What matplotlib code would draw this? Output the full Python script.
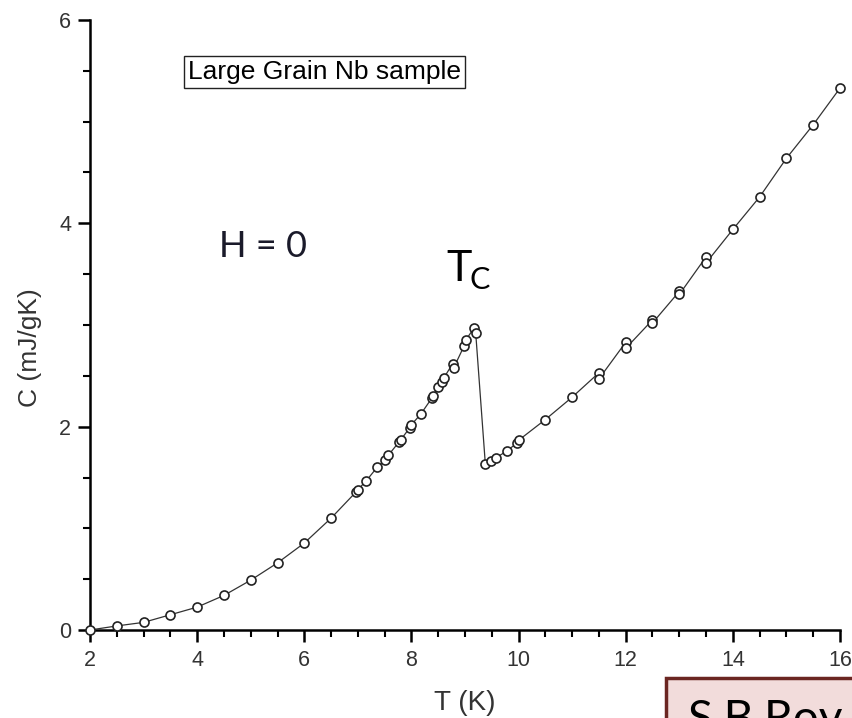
import matplotlib
matplotlib.use("Agg")
import matplotlib.pyplot as plt
from matplotlib.patches import Rectangle
from matplotlib.ticker import MultipleLocator

# Data (T in K, C in mJ/gK)
T = [2.0, 2.5, 3.0, 3.5, 4.0, 4.5, 5.0, 5.5, 6.0, 6.5, 6.97, 7.0, 7.16, 7.36,
     7.5, 7.57, 7.77, 7.8, 7.97, 8.0, 8.17, 8.38, 8.4, 8.5, 8.58, 8.6, 8.77,
     8.79, 8.98, 9.01, 9.17, 9.2, 9.38, 9.49, 9.58, 9.78, 9.97, 10.01, 10.5,
     11.0, 11.5, 11.5, 12.0, 12.0, 12.5, 12.5, 13.0, 13.0, 13.5, 13.5, 14.0,
     14.5, 15.0, 15.5, 16.0]
C = [0.0, 0.04, 0.075, 0.15, 0.225, 0.34, 0.49, 0.66, 0.855, 1.10, 1.36, 1.38,
     1.47, 1.60, 1.67, 1.72, 1.85, 1.87, 1.99, 2.02, 2.12, 2.28, 2.30, 2.39,
     2.44, 2.475, 2.62, 2.58, 2.79, 2.85, 2.97, 2.92, 1.63, 1.665, 1.695, 1.76,
     1.84, 1.87, 2.07, 2.29, 2.53, 2.47, 2.83, 2.77, 3.05, 3.02, 3.33, 3.30,
     3.67, 3.61, 3.94, 4.26, 4.64, 4.97, 5.33]

x_ticks = [2, 4, 6, 8, 10, 12, 14, 16]
y_ticks = [0, 2, 4, 6]

fig = plt.figure(figsize=(8.53, 7.18), dpi=100)
ax = fig.add_axes([90/853, 1-630/718, (840-90)/853, (630-20)/718])

ax.plot(T, C, color="#333333", lw=0.9, marker="o", ms=6.5, mfc="white",
        mec="#222222", mew=1.2, clip_on=False, zorder=3)

ax.set_xlim(2, 16)
ax.set_ylim(0, 6)
ax.set_xticks(x_ticks)
ax.set_yticks(y_ticks)
ax.xaxis.set_minor_locator(MultipleLocator(0.5))
ax.yaxis.set_minor_locator(MultipleLocator(0.5))
for s in ["top", "right"]:
    ax.spines[s].set_visible(False)
for s in ["left", "bottom"]:
    ax.spines[s].set_linewidth(1.8)
ax.tick_params(which="major", direction="out", length=8.5, width=1.8,
               labelsize=15.5, labelcolor="#333333")
ax.tick_params(axis="x", which="major", pad=6)
ax.tick_params(axis="y", which="major", pad=5)
ax.tick_params(which="minor", direction="out", length=5, width=1.5)
for lab in ax.get_xticklabels() + ax.get_yticklabels():
    lab.set_fontfamily("Liberation Sans")

ax.set_xlabel("T (K)", fontsize=20, family="Liberation Sans", color="#333333")
ax.xaxis.set_label_coords(0.5, -(690-630)/610)
ax.set_ylabel("C (mJ/gK)", fontsize=19, family="Liberation Sans",
              color="#333333")
ax.yaxis.set_label_coords(-(90-42)/750, (630-348)/610)

ax.text(3.83, 5.49, "Large Grain Nb sample", fontsize=19,
        family="Liberation Sans", ha="left", va="center",
        bbox=dict(boxstyle="square,pad=0.15", fc="white", ec="#222222", lw=1))

ax.text(4.4, 3.77, "H = 0", fontsize=26, family="Lato", color="#1a1a2a",
        ha="left", va="center")
ax.text(8.65, 3.55, "T", fontsize=31, family="Lato", color="black",
        ha="left", va="center")
ax.text(9.08, 3.44, "C", fontsize=22, family="Lato", color="black",
        ha="left", va="center")

# Citation box cut off at the bottom-right corner
fig.patches.append(Rectangle((666/853, -0.05), 0.3, 1-678/718+0.05,
                             transform=fig.transFigure, fc="#f2dcdb",
                             ec="#6b2622", lw=2.5, zorder=5))
fig.text(688/853, 1-733/718, "S.B.Roy &", fontsize=33,
         family="Lato", color="black", ha="left", va="baseline", zorder=6)

fig.savefig("out.png", dpi=100)
